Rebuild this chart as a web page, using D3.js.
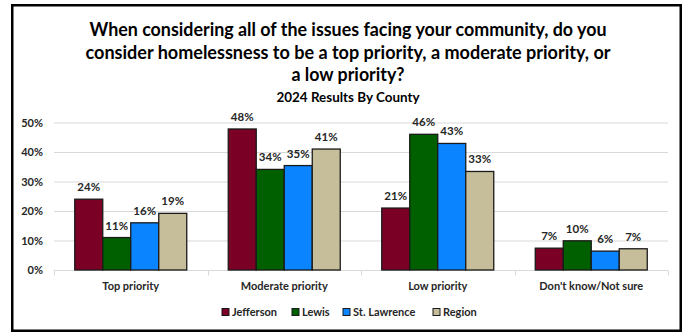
<!DOCTYPE html>
<html><head><meta charset="utf-8">
<script src="https://cdn.jsdelivr.net/npm/d3@7"></script>
<style>
html,body{margin:0;padding:0;background:#fff;}
svg{display:block;}
text{font-family:Lato, "Open Sans", sans-serif;font-weight:bold;}
</style></head>
<body>
<svg id="c" width="686" height="334"></svg>
<script>
const titleLines = ["When considering all of the issues facing your community, do you",
  "consider homelessness to be a top priority, a moderate priority, or",
  "a low priority?"];
const subtitle = "2024 Results By County";
const categories = ["Top priority", "Moderate priority", "Low priority", "Don't know/Not sure"];
const seriesNames = ["Jefferson", "Lewis", "St. Lawrence", "Region"];
const seriesColors = ["#7a0026", "#006000", "#0a84ff", "#c6bd9b"];
const jefferson = [24, 47.8, 21, 7.4];
const lewis = [11, 34.1, 46, 9.9];
const stLawrence = [16, 35.4, 42.9, 6.4];
const region = [19.2, 41, 33.4, 7.2];
const yTicks = [0, 10, 20, 30, 40, 50];

const seriesValues = [jefferson, lewis, stLawrence, region];
const svg = d3.select("#c");

// frame
svg.append("rect").attr("x", 12.25).attr("y", 5.25).attr("width", 668.5).attr("height", 325.5)
  .attr("fill", "#fff").attr("stroke", "#000").attr("stroke-width", 2.5);

function fit(sel, target) {
  const node = sel.node();
  const w = node.getComputedTextLength();
  if (w > 0) sel.attr("textLength", target).attr("lengthAdjust", "spacingAndGlyphs");
}

// titles
const titleBase = [36, 58.5, 81];
const titleWidths = [517, 525, 113];
titleLines.forEach((t, i) => {
  const s = svg.append("text").attr("x", 348).attr("y", titleBase[i]).attr("text-anchor", "middle")
    .attr("font-size", 19).attr("fill", "#000").text(t);
  fit(s, titleWidths[i]);
});
const sub = svg.append("text").attr("x", 348).attr("y", 101.5).attr("text-anchor", "middle")
  .attr("font-size", 13.5).attr("fill", "#000").text(subtitle);
fit(sub, 143);

// scales
const x0 = d3.scaleBand().domain(categories).range([54, 668]).padding(0);
const x1 = d3.scaleBand().domain(seriesNames).range([0, x0.bandwidth()]).paddingInner(0).paddingOuter(0.741);
const y = d3.scaleLinear().domain([0, 50]).range([270, 122.5]);

// gridlines
svg.append("g").selectAll("line").data(yTicks.filter(d => d > 0)).join("line")
  .attr("x1", 54).attr("x2", 668).attr("y1", d => y(d) + 0.5).attr("y2", d => y(d) + 0.5)
  .attr("stroke", "#d9d9d9").attr("stroke-width", 1);

// x axis
const xAxisG = svg.append("g").attr("transform", `translate(0,${y(0) + 0.5})`);
xAxisG.append("line").attr("x1", 54).attr("x2", 668).attr("stroke", "#d9d9d9");
const bounds = categories.map(c => x0(c)).concat([x0.range()[1]]);
xAxisG.selectAll("line.tk").data(bounds).join("line").attr("class", "tk")
  .attr("x1", d => Math.round(d) + 0.5).attr("x2", d => Math.round(d) + 0.5).attr("y1", 0).attr("y2", 5)
  .attr("stroke", "#d9d9d9");
categories.forEach((c, i) => {
  svg.append("text").attr("x", x0(c) + x0.bandwidth() / 2).attr("y", 289.5)
    .attr("text-anchor", "middle").attr("font-size", 11).attr("fill", "#262626").text(c);
});

// y labels
svg.append("g").selectAll("text").data(yTicks).join("text")
  .attr("x", 43).attr("y", d => y(d) + 4).attr("text-anchor", "end")
  .attr("font-size", 11).attr("fill", "#262626").text(d => d + "%");

// bars
seriesNames.forEach((name, si) => {
  const g = svg.append("g");
  g.selectAll("rect").data(categories).join("rect")
    .attr("x", c => x0(c) + x1(name))
    .attr("y", (c, i) => y(seriesValues[si][i]))
    .attr("width", x1.bandwidth())
    .attr("height", (c, i) => y(0) - y(seriesValues[si][i]))
    .attr("fill", seriesColors[si]).attr("stroke", "#1a1a1a").attr("stroke-width", 1.3);
  g.selectAll("text").data(categories).join("text")
    .attr("x", c => x0(c) + x1(name) + x1.bandwidth() / 2)
    .attr("y", (c, i) => y(seriesValues[si][i]) - 8)
    .attr("text-anchor", "middle").attr("font-size", 11.5).attr("fill", "#262626")
    .text((c, i) => Math.round(seriesValues[si][i]) + "%");
});

// legend
const legX = [222, 292, 343, 433];
seriesNames.forEach((name, i) => {
  svg.append("rect").attr("x", legX[i]).attr("y", 308.5).attr("width", 7).attr("height", 7)
    .attr("fill", seriesColors[i]).attr("stroke", "#1a1a1a").attr("stroke-width", 1);
  svg.append("text").attr("x", legX[i] + 10).attr("y", 316).attr("font-size", 11)
    .attr("fill", "#262626").text(name);
});
</script>
</body></html>
